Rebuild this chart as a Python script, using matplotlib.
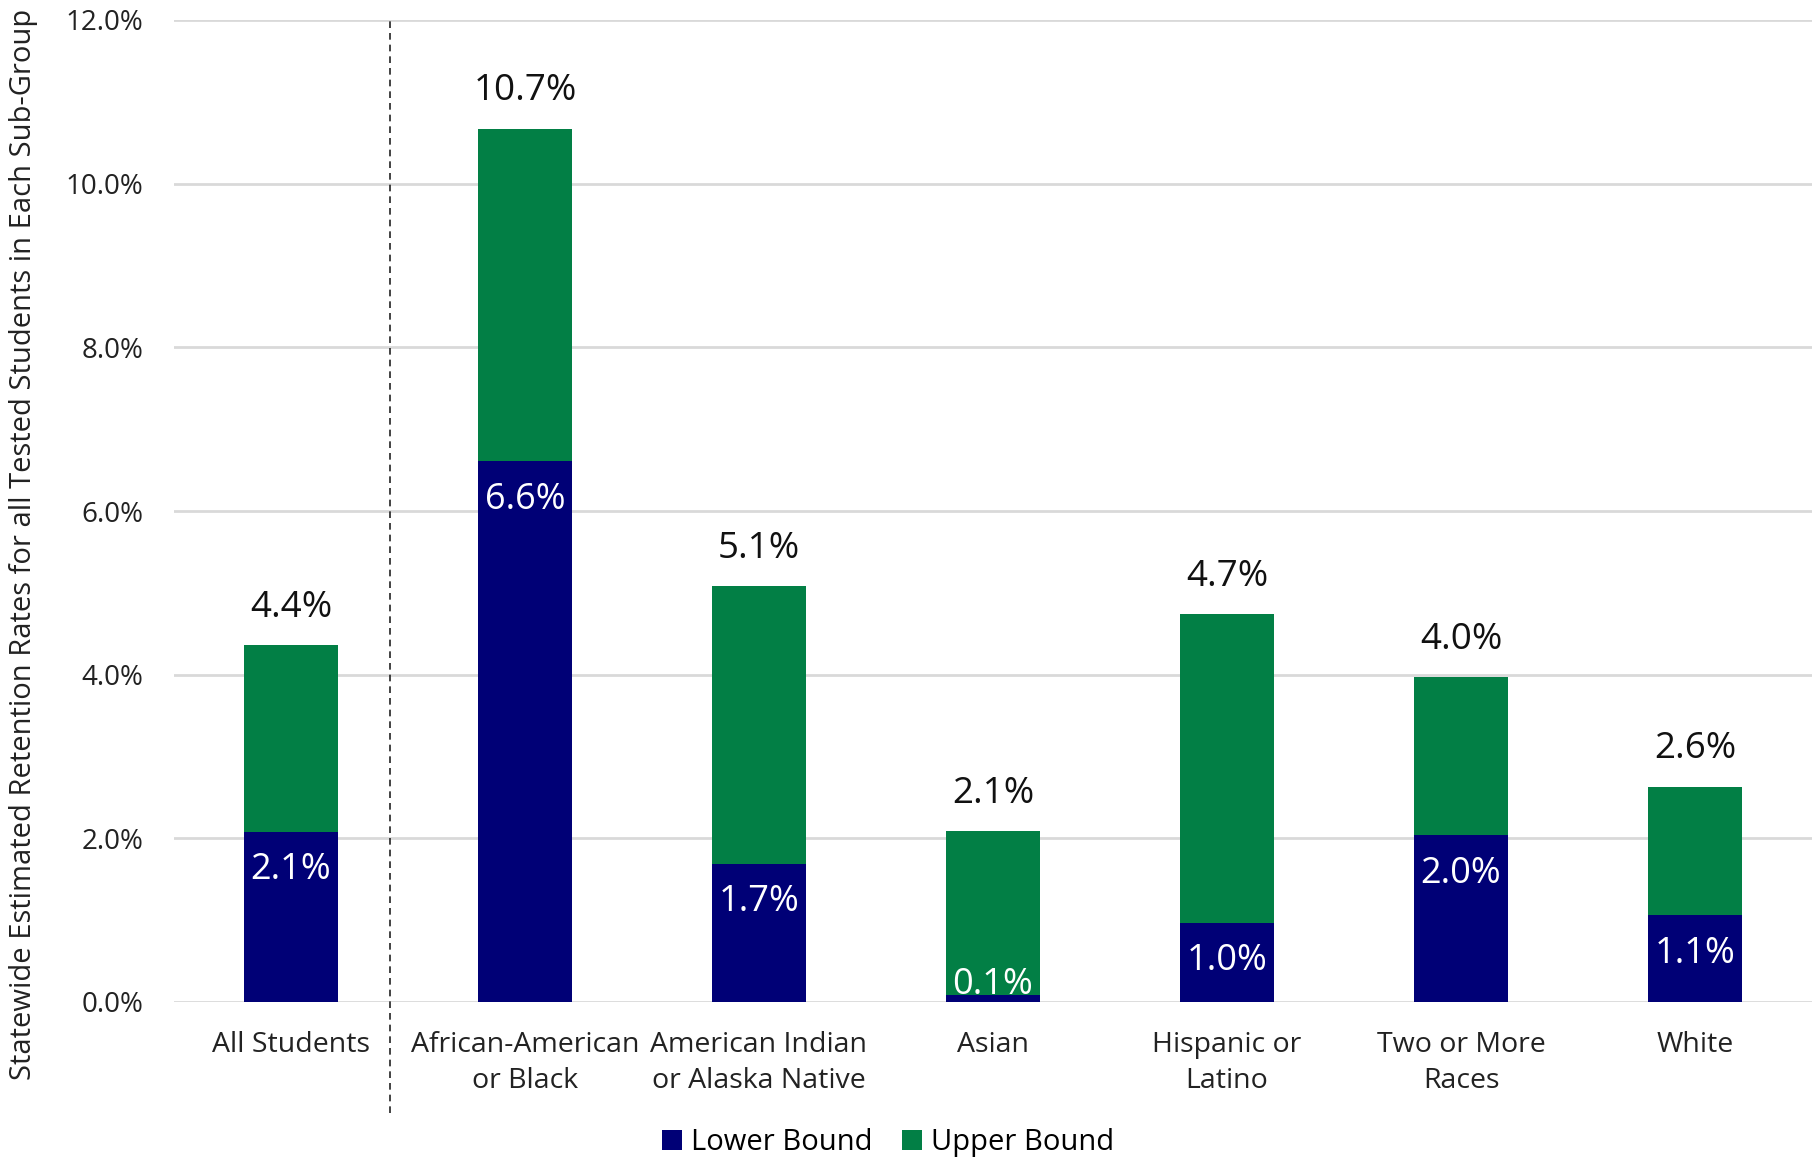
import matplotlib
matplotlib.use("Agg")
import matplotlib.pyplot as plt
from matplotlib.lines import Line2D
import numpy as np

plt.rcParams['font.family'] = ['Open Sans', 'DejaVu Sans']

categories = ["All Students", "African-American\nor Black", "American Indian\nor Alaska Native",
              "Asian", "Hispanic or\nLatino", "Two or More\nRaces", "White"]
lower_bound = [2.08, 6.61, 1.69, 0.08, 0.97, 2.04, 1.06]
upper_bound = [4.36, 10.67, 5.08, 2.09, 4.74, 3.97, 2.63]
yticks = [0, 2, 4, 6, 8, 10, 12]

NAVY = "#000076"
GREEN = "#027F45"
GRID = "#d9d9d9"

fig = plt.figure(figsize=(18.16, 11.61), dpi=100)
ax = fig.add_axes([174/1816, 1 - 1002/1161, 1638/1816, 982/1161])

x = np.arange(len(categories))
lo = np.array(lower_bound)
up = np.array(upper_bound)
w = 0.4
b1 = ax.bar(x, lo, w, color=NAVY, label="Lower Bound", zorder=3)
b2 = ax.bar(x, up - lo, w, bottom=lo, color=GREEN, label="Upper Bound", zorder=3)

# labels
for xi, l, u in zip(x, lo, up):
    ax.annotate(f"{u:.1f}%", (xi, u), xytext=(0, 14), textcoords="offset points",
                ha="center", va="bottom", fontsize=26.5, color="#111111")
    ax.text(xi, max(l - 0.47, 0.21), f"{l:.1f}%", ha="center", va="center",
            fontsize=26, color="white", zorder=4)

ax.set_xlim(-0.5, len(categories) - 0.5)
ax.set_ylim(0, 12)
ax.set_yticks(yticks)
ax.set_yticklabels([f"{v:.1f}%" for v in yticks], fontsize=20, color="#222222")
ax.set_xticks(x)
ax.set_xticklabels(categories, fontsize=20.5, color="#222222", linespacing=1.38)
ax.tick_params(axis="both", length=0)
ax.tick_params(axis="y", pad=22)
ax.tick_params(axis="x", pad=21)
for s in ax.spines.values():
    s.set_visible(False)
ax.yaxis.grid(True, color=GRID, linewidth=2, zorder=0)
ax.set_axisbelow(True)

ax.set_ylabel("Statewide Estimated Retention Rates for all Tested Students in Each Sub-Group",
              fontsize=21, color="#222222")
ax.yaxis.set_label_coords(-0.083, 0.466)

# dashed separator
ax.add_line(Line2D([0.423, 0.423], [-1.36, 12], color="#222222", linewidth=1.2,
                   linestyle=(0, (4, 3)), clip_on=False, zorder=2))

fig.legend(handles=[b1, b2], loc="center", bbox_to_anchor=(0.489, 0.016), ncol=2,
           frameon=False, fontsize=21, handlelength=0.7, handleheight=0.7,
           columnspacing=1.0, handletextpad=0.3)

fig.savefig("out.png", dpi=100)
